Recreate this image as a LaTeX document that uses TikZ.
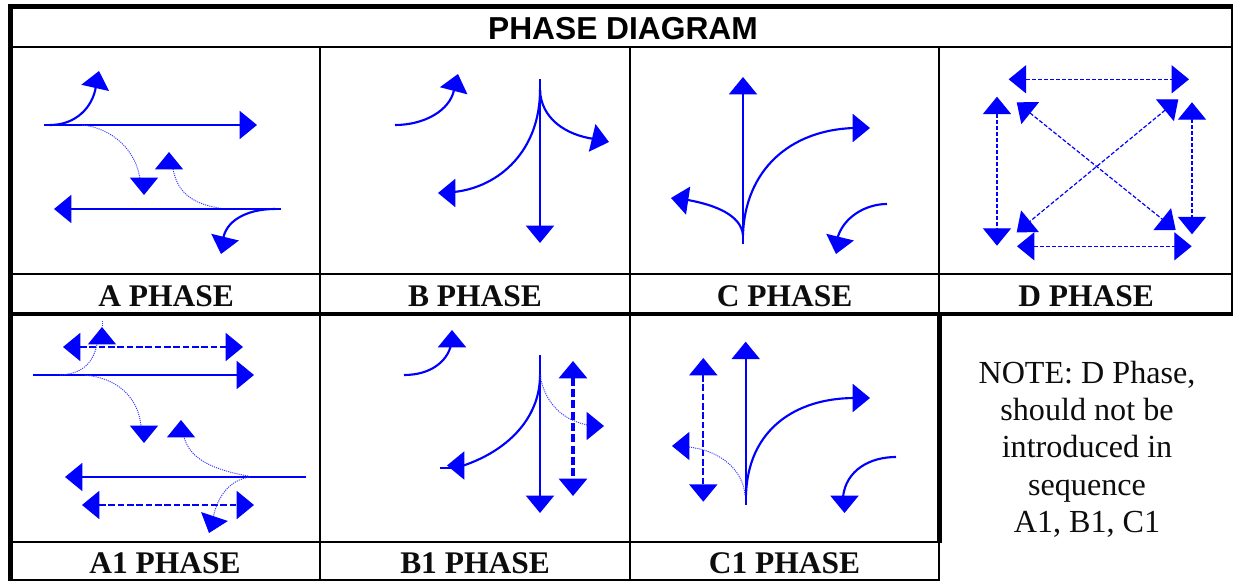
\documentclass[tikz,border=0pt]{standalone}
\usepackage{fontspec}
\setmainfont{Liberation Serif}
\newfontfamily\arialbold[BoldFont=*]{Liberation Sans Bold}
\usetikzlibrary{arrows.meta}
\definecolor{phaseblue}{RGB}{0,0,255}
\tikzset{
  x=.75pt,y=-.75pt,
  hd/.tip={Triangle[length=13pt,width=21pt,color=phaseblue,fill=phaseblue]},
  solidln/.style={draw=phaseblue,line width=1.3pt,-{hd}},
  curveln/.style={draw=phaseblue,line width=1.6pt,-{hd}},
  dotln/.style={draw=phaseblue!80,line width=.7pt,dash pattern=on .8pt off .8pt,-{hd}},
  dashln/.style={draw=phaseblue,line width=.9pt,dash pattern=on 3pt off 1.5pt,{hd}-{hd}},
  dashmid/.style={draw=phaseblue,line width=1.5pt,dash pattern=on 5pt off 2pt,{hd}-{hd}},
  dashbold/.style={draw=phaseblue,line width=2.3pt,dash pattern=on 6pt off 2.5pt,{hd}-{hd}},
  thin grid/.style={draw=black,line width=1.4pt},
  thick grid/.style={draw=black,line width=3.5pt},
  label/.style={anchor=base,inner sep=0pt,font=\fontsize{23.6}{28}\selectfont\bfseries,text=black!95},
}
\begin{document}
\begin{tikzpicture}
\useasboundingbox[fill=white] (0,0) rectangle (1233,581);
% grid
\draw[thin grid] (12,47) -- (1232,47);
\draw[thin grid] (12,274) -- (1232,274);
\draw[thin grid] (12,541.7) -- (939,541.7);
\draw[thin grid] (12,580) -- (939.7,580);
\draw[thin grid] (320,47) -- (320,580);
\draw[thin grid] (630,47) -- (630,580);
\draw[thin grid] (939,47) -- (939,314);
\draw[thin grid] (939,541) -- (939,580.7);
\draw[thin grid] (1232,4) -- (1232,314);
\draw[thick grid] (10.3,4) -- (10.3,581);
\draw[thick grid] (8,6.5) -- (1233,6.5);
\draw[thick grid] (8,314) -- (1233,314);
\draw[thick grid] (939.5,314) -- (939.5,542.5);
% title and labels
\node[anchor=base,inner sep=0pt,font=\fontsize{23.8}{28}\selectfont\arialbold,text=black] (title) at (623,39.5) {PHASE DIAGRAM};
\node[label] (la) at (166,306.5) {A PHASE};
\node[label] (lb) at (475,306.5) {B PHASE};
\node[label] (lc) at (784.5,306.5) {C PHASE};
\node[label] (ld) at (1086,306.5) {D PHASE};
\node[label] (la1) at (165,573.5) {A1 PHASE};
\node[label] (lb1) at (475,573.5) {B1 PHASE};
\node[label] (lc1) at (784.5,573.5) {C1 PHASE};
\node[inner sep=0pt,align=center,font=\fontsize{24.1}{28}\selectfont,text=black!95] (note) at (1087,449)
  {NOTE: D Phase,\\should not be\\introduced in\\sequence\\A1, B1, C1};
% A phase
\draw[solidln] (44,125) -- (257,125);
\draw[curveln] (50,125) .. controls (76,125) and (93,107) .. (96,86) (95.5,86.5) -- (99,71);
\draw[dotln] (82,125) .. controls (112,128) and (136,150) .. (140,179) (144,179) -- (144,195);
\draw[dotln] (225,209) .. controls (195,205) and (178,195) .. (173,169) (169,168) -- (169,152);
\draw[solidln] (281,209) -- (54,209);
\draw[curveln] (275,209) .. controls (245,209) and (225,222) .. (223,240) (224.5,239.5) -- (221,254);
% B phase
\draw[curveln] (395,125) .. controls (425,125) and (450,110) .. (454,90) (454,89.5) -- (458,74);
\draw[solidln] (540,79) -- (540,243);
\draw[curveln] (540,90) .. controls (541,118) and (565,135) .. (594.5,139) (594.5,138.5) -- (609,142);
\draw[curveln] (540,90) .. controls (540,150) and (500,187) .. (454,192) (454,193) -- (438,193);
% C phase
\draw[solidln] (743,244) -- (743,77);
\draw[curveln] (743,235) .. controls (745,170) and (790,130) .. (854,128) (854,128) -- (870,128);
\draw[curveln] (743,235) .. controls (741,215) and (715,205) .. (688,200) (687.5,200.5) -- (671,198);
\draw[curveln] (887,204) .. controls (865,204) and (842,218) .. (837,240) (839.5,239.5) -- (836,254);
% D phase
\draw[dashln] (1008.7,79.3) -- (1189,79.3);
\draw[dashln] (997,96.7) -- (997,245.7);
\draw[dashln] (1192,102.3) -- (1192,234.3);
\draw[dashln] (1017,246.3) -- (1191.7,246.3);
\draw[dashln] (1016.7,102.3) -- (1175.7,230);
\draw[dashln] (1178.3,99.3) -- (1016.7,232.3);
% A1 phase
\draw[dashmid] (63,347) -- (243,347);
\draw[solidln] (33,375) -- (254,375);
\draw[dotln] (60,375) .. controls (80,374) and (93,365) .. (97,344) (102,343) -- (102,327);
\draw[dotln,-] (102,321) -- (102,327);
\draw[dotln] (85,375) .. controls (115,378) and (138,395) .. (141,426) (144,427) -- (144,443);
\draw[dotln] (248,476) .. controls (215,470) and (190,460) .. (184,437) (181,436) -- (181,420);
\draw[solidln] (306,477) -- (65,477);
\draw[dashmid] (82,505) -- (254,505);
\draw[dotln] (250,477) .. controls (230,480) and (218,495) .. (213,518) (214,518) -- (209,533);
% B1 phase
\draw[curveln] (404,375) .. controls (430,375) and (447,362) .. (451,345) (452,345.5) -- (452,330);
\draw[solidln] (540,355) -- (540,513);
\draw[curveln] (540,375) .. controls (540,420) and (505,452) .. (462,466) (463,465.5) -- (447,465.5);
\draw[curveln,-] (440,468) -- (455,468);
\draw[dashbold] (573,361) -- (573,496);
\draw[dotln] (540,375) .. controls (544,400) and (560,420) .. (588,425) (588,426) -- (604,426);
% C1 phase
\draw[solidln] (745.7,505) -- (745.7,341.7);
\draw[curveln] (746,495) .. controls (748,430) and (795,398) .. (855,398) (854,398) -- (870,398);
\draw[curveln] (896,457) .. controls (870,457) and (846,470) .. (843,497) (844.5,497) -- (844.5,513);
\draw[dashmid] (703.3,358) -- (703.3,501.7);
\draw[dotln] (745,495) .. controls (743,470) and (720,450) .. (688,447) (688,446) -- (672,446);
\end{tikzpicture}
\end{document}
